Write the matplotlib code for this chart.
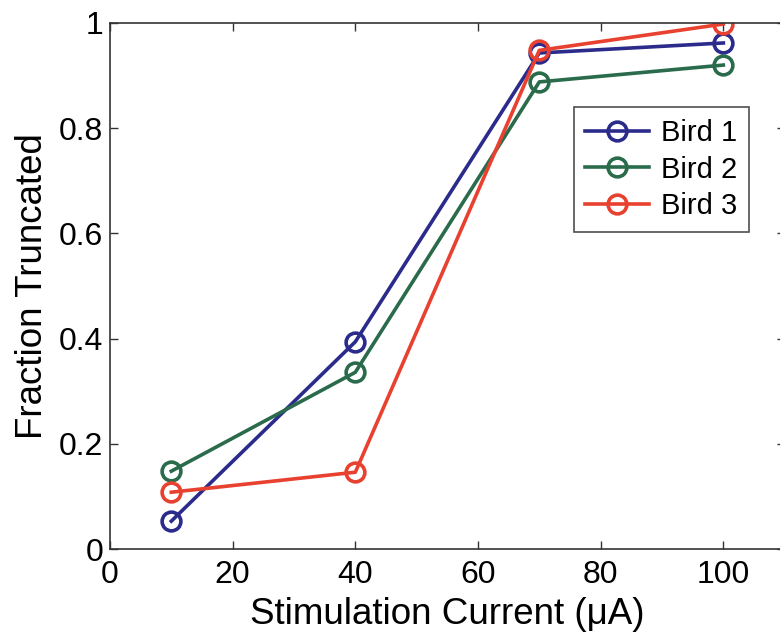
import matplotlib
matplotlib.use("Agg")
import matplotlib.pyplot as plt

plt.rcParams['font.family'] = ['Liberation Sans', 'DejaVu Sans']

current = [10, 40, 70, 100]
bird1 = [0.053, 0.394, 0.943, 0.962]
bird2 = [0.148, 0.336, 0.888, 0.920]
bird3 = [0.108, 0.146, 0.948, 0.998]
labels = ['Bird 1', 'Bird 2', 'Bird 3']
colors = ['#2b2b8c', '#2a6b4b', '#e8412f']

fig = plt.figure(figsize=(7.8, 6.35), dpi=100)
ax = fig.add_axes([0.141, 0.1354, 0.865, 0.8284])

for ys, lab, col in zip([bird1, bird2, bird3], labels, colors):
    ax.plot(current, ys, color=col, lw=2.6, marker='o', ms=13.5,
            mfc='none', mew=2.6, label=lab)

ax.set_xlim(0, 110)
ax.set_ylim(0, 1)
ax.set_xticks([0, 20, 40, 60, 80, 100])
ax.set_yticks([0, 0.2, 0.4, 0.6, 0.8, 1])
ax.set_yticklabels(['0', '0.2', '0.4', '0.6', '0.8', '1'])
ax.tick_params(direction='in', top=True, right=True, labelsize=23,
               length=6, width=1, color='#333333', pad=5)
ax.tick_params(axis='x', pad=8)
for s in ax.spines.values():
    s.set_color('#333333')
    s.set_linewidth(1.2)

ax.set_xlabel('Stimulation Current (μA)', fontsize=26.5, labelpad=5)
ax.set_ylabel('Fraction Truncated', fontsize=26.5, labelpad=6)

leg = ax.legend(loc='upper right', bbox_to_anchor=(0.947, 0.84), fontsize=21,
                frameon=True, fancybox=False, handlelength=2.2,
                borderaxespad=0, borderpad=0.4, labelspacing=0.3,
                handletextpad=0.4)
leg.get_frame().set_edgecolor('#222222')
leg.get_frame().set_linewidth(1.2)

fig.savefig('out.png', dpi=100)
